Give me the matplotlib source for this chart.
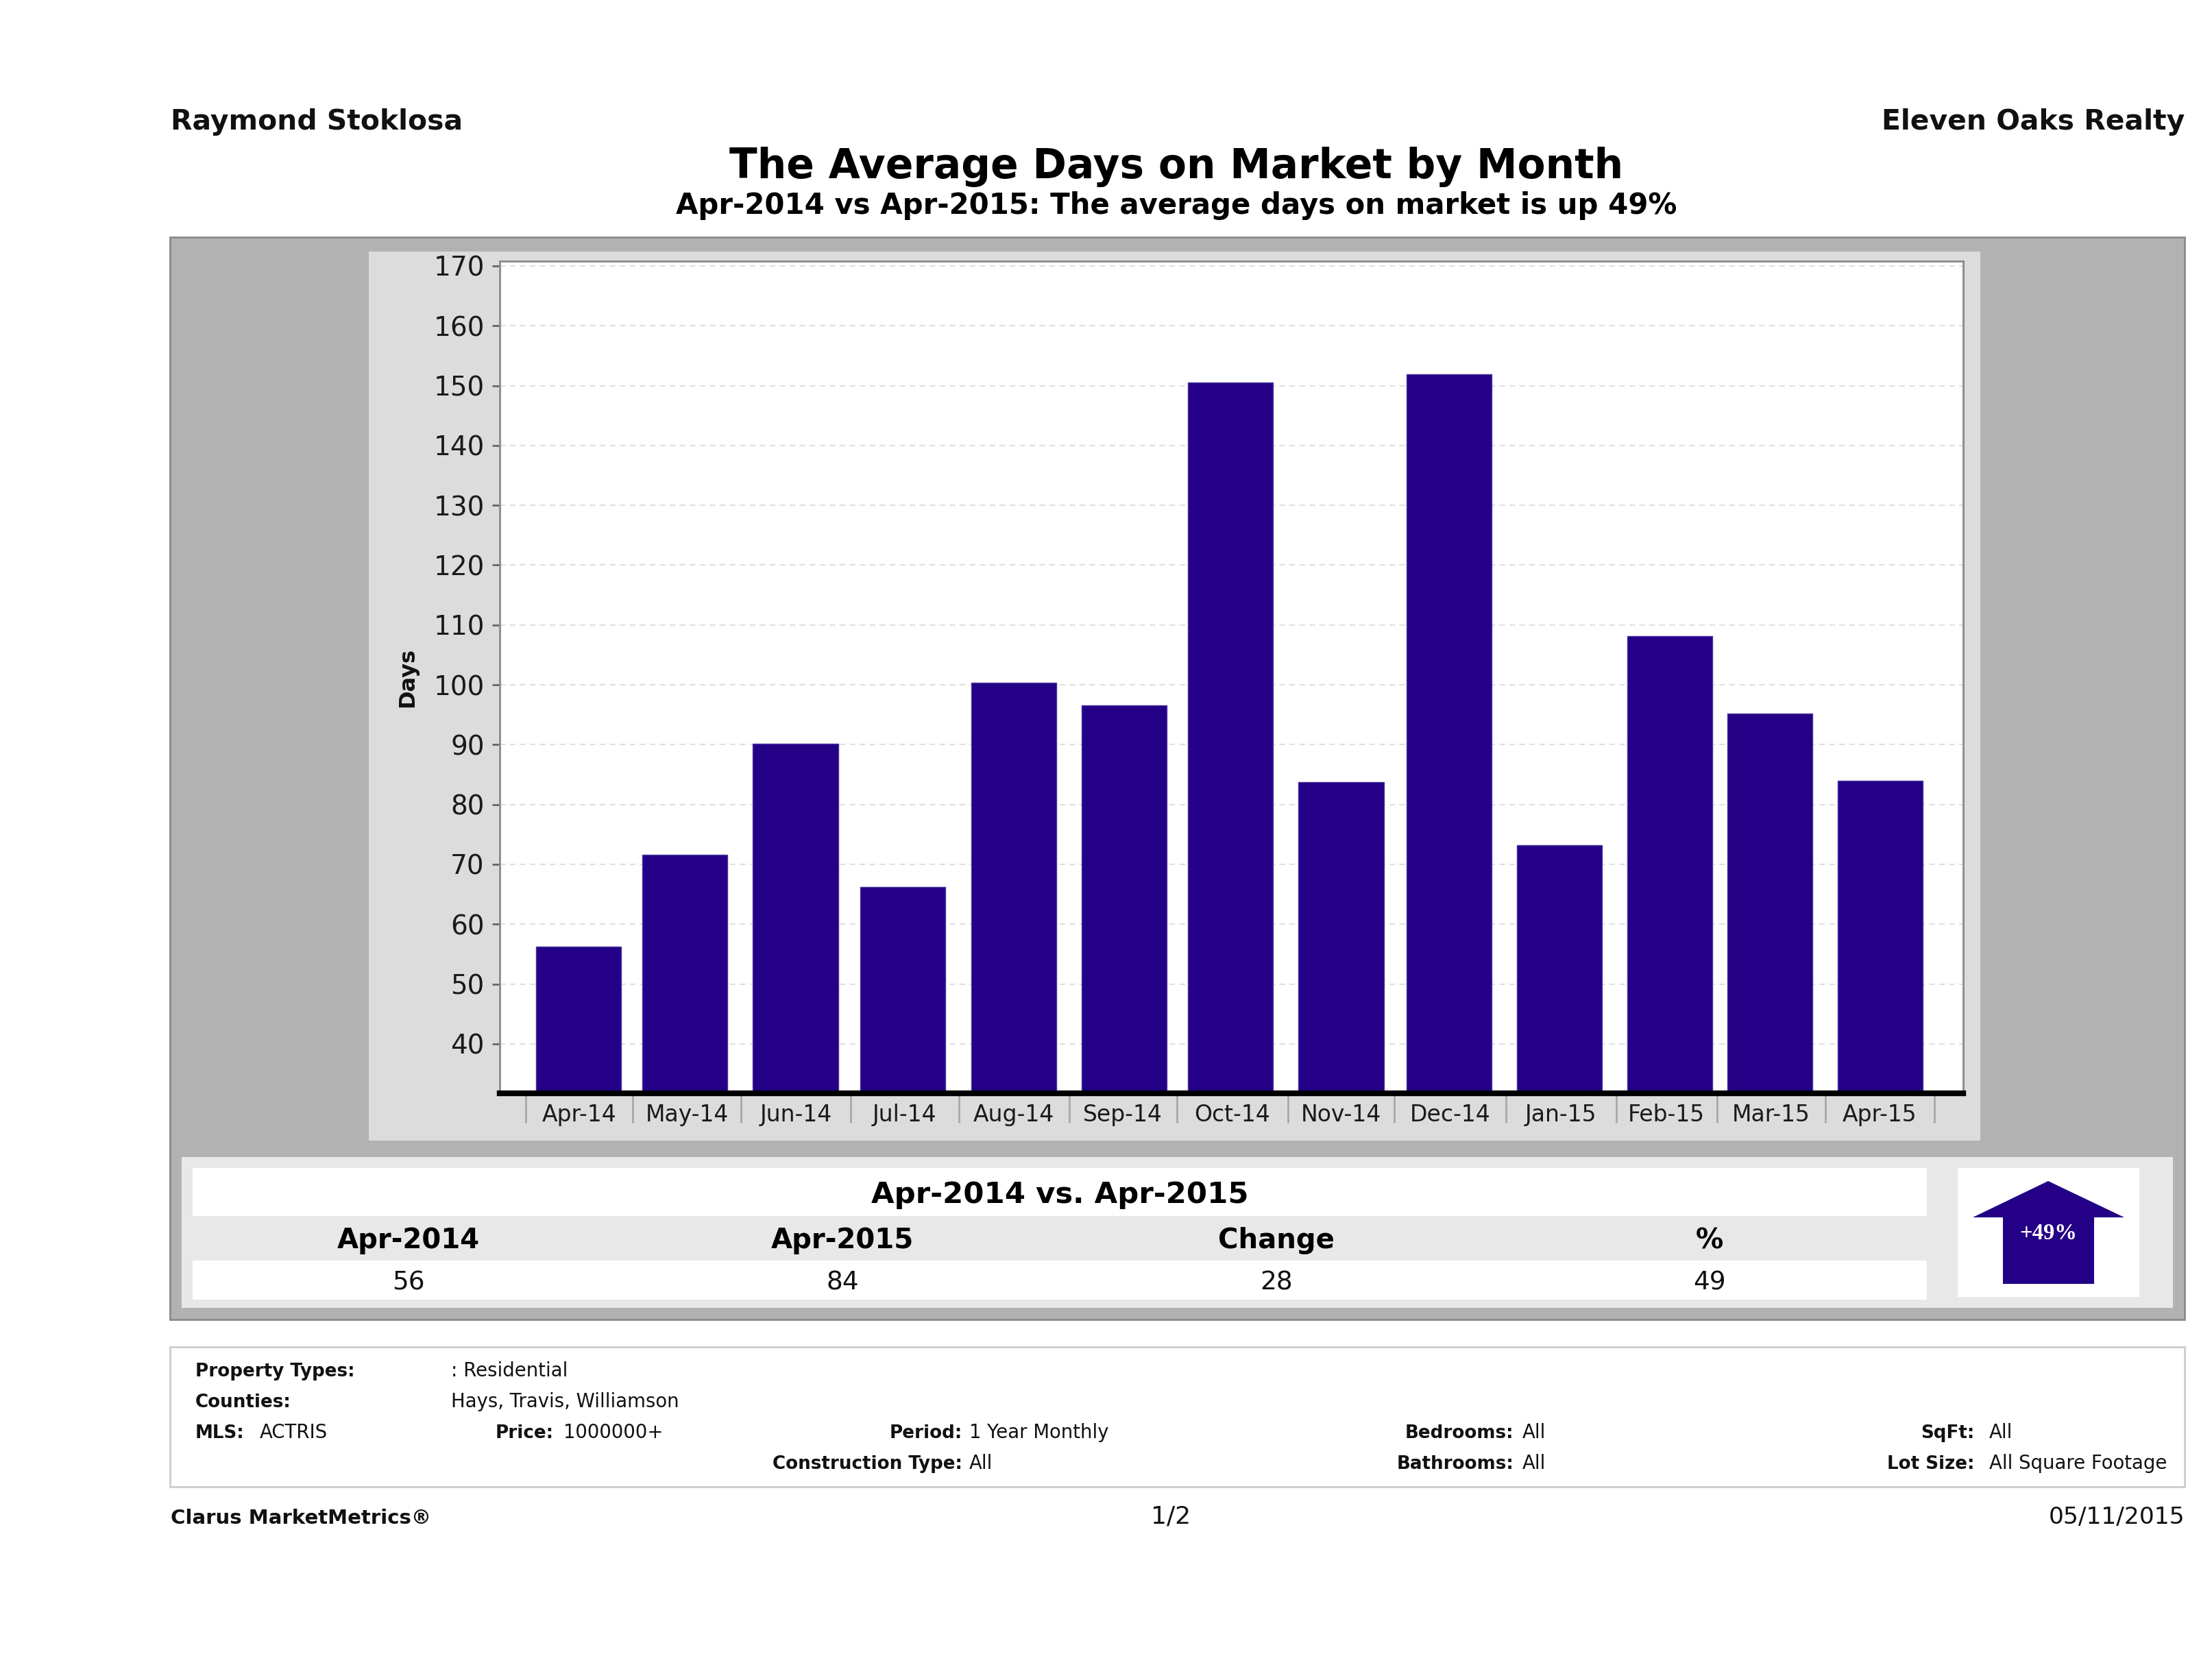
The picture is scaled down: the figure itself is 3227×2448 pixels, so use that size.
import matplotlib
matplotlib.use("Agg")
import matplotlib.pyplot as plt
from matplotlib.patches import Rectangle, Polygon

# chart data
months = ["Apr-14", "May-14", "Jun-14", "Jul-14", "Aug-14", "Sep-14", "Oct-14",
          "Nov-14", "Dec-14", "Jan-15", "Feb-15", "Mar-15", "Apr-15"]
avg_days = [56.2, 71.6, 90.2, 66.2, 100.3, 96.6, 150.5, 83.8, 151.9, 73.2, 108.2, 95.2, 84]
y_ticks = [40, 50, 60, 70, 80, 90, 100, 110, 120, 130, 140, 150, 160, 170]

# summary table
table_title = "Apr-2014 vs. Apr-2015"
table_heads = ["Apr-2014", "Apr-2015", "Change", "%"]
table_vals = ["56", "84", "28", "49"]

# the bars in the source are not evenly spaced, offsets in month units
bar_nudge = [0, -0.02, 0, -0.01, 0.01, 0.03, 0.01, 0.03, 0.025, 0.04, 0.06, -0.02, 0]
sep_ticks = [-0.487, 0.499, 1.497, 2.508, 3.506, 4.523, 5.515, 6.539, 7.519, 8.549,
             9.566, 10.495, 11.494, 12.5]

W, H = 3227, 2448
BAR = "#240086"
DARK = "#111111"

fig = plt.figure(figsize=(W / 100, H / 100), dpi=100, facecolor="white")
plt.rcParams["font.family"] = "DejaVu Sans"

# background axes in picture pixels for the panels and the page text
bg = fig.add_axes([0, 0, 1, 1])
bg.set_xlim(0, W)
bg.set_ylim(H, 0)
bg.axis("off")


def box(x0, y0, x1, y1, color, edge="none", lw=0):
    bg.add_patch(Rectangle((x0, y0), x1 - x0, y1 - y0, facecolor=color, edgecolor=edge, linewidth=lw))


def label(x, y, s, size, bold=False, ha="left", **kw):
    bg.text(x, y, s, fontsize=size, fontweight="bold" if bold else "normal", ha=ha,
            va="baseline", color=kw.pop("color", DARK), **kw)


box(248, 346, 3187, 1925, "#b2b2b2", "#8a8a8a", 2)
box(538, 367, 2889, 1664, "#dcdcdc")
box(265, 1688, 3170, 1908, "#e8e8e8")
box(281, 1704, 2811, 1774, "white")
box(281, 1839, 2811, 1896, "white")
box(2856, 1704, 3121, 1892, "white")
box(248, 1965, 3187, 2169, "white", "#cccccc", 2)

# up arrow
bg.add_patch(Polygon([(2988, 1723), (3099, 1776), (3055, 1776), (3055, 1873),
                      (2922, 1873), (2922, 1776), (2878, 1776)], closed=True, facecolor=BAR))
bg.text(2988, 1808, "+49%", fontsize=23.5, fontweight="bold", family="Liberation Serif",
        color="white", ha="center", va="baseline")

# page heading
label(249, 189, "Raymond Stoklosa", 29.4, True)
label(3187, 189, "Eleven Oaks Realty", 29.4, True, ha="right")
label(1716, 260, "The Average Days on Market by Month", 43, True, ha="center", color="black")
label(1716, 312, "Apr-2014 vs Apr-2015: The average days on market is up 49%", 30.2, True, ha="center", color="black")

# summary table text
label(1546, 1755, table_title, 31.2, True, ha="center", color="black")
for cx, head, val in zip([596, 1229, 1862, 2494], table_heads, table_vals):
    label(cx, 1821, head, 29, True, ha="center", color="black")
    label(cx, 1882, val, 27, ha="center")

# footer filter block
label(285, 2008, "Property Types:", 18.8, True)
label(658, 2008, ": Residential", 19.8)
label(285, 2053, "Counties:", 18.8, True)
label(658, 2053, "Hays, Travis, Williamson", 19.8)
label(285, 2098, "MLS:", 18.8, True)
label(379, 2098, "ACTRIS", 19.8)
label(808, 2098, "Price:", 18.8, True, ha="right")
label(822, 2098, "1000000+", 19.8)
label(1404, 2098, "Period:", 18.8, True, ha="right")
label(1414, 2098, "1 Year Monthly", 19.8)
label(1404, 2143, "Construction Type:", 18.8, True, ha="right")
label(1414, 2143, "All", 19.8)
label(2208, 2098, "Bedrooms:", 18.8, True, ha="right")
label(2221, 2098, "All", 19.8)
label(2208, 2143, "Bathrooms:", 18.8, True, ha="right")
label(2221, 2143, "All", 19.8)
label(2880, 2098, "SqFt:", 18.8, True, ha="right")
label(2902, 2098, "All", 19.8)
label(2880, 2143, "Lot Size:", 18.8, True, ha="right")
label(2902, 2143, "All Square Footage", 19.8)

label(249, 2223, "Clarus MarketMetrics\u00ae", 21, True)
label(1708, 2223, "1/2", 26, ha="center")
label(3187, 2223, "05/11/2015", 24.8, ha="right")

# bar chart
left, right, top, bottom = 729, 2864, 381, 1595
ax = fig.add_axes([left / W, 1 - bottom / H, (right - left) / W, (bottom - top) / H])
ax.set_facecolor("white")
x_pos = [i + n for i, n in enumerate(bar_nudge)]
ax.bar(x_pos, avg_days, width=0.784, color=BAR, edgecolor="#4a35a0", linewidth=1, zorder=3)
ax.set_xlim(-0.727, 12.765)
ax.set_ylim(31.74, 170.8)

ax.set_yticks(y_ticks)
ax.tick_params(axis="y", labelsize=28, length=8, width=2, color="#666666", pad=8, labelcolor="#1a1a1a")
ax.grid(axis="y", color="#e0e0e0", linestyle=(0, (4, 3)), linewidth=1.5, zorder=1)
ax.set_ylabel("Days", fontsize=23, fontweight="bold", color=DARK, labelpad=16)

# month labels sit in the middle of their separator ticks
label_pos = [(a + b) / 2 for a, b in zip(sep_ticks[:-1], sep_ticks[1:])]
ax.set_xticks(label_pos, months)
ax.tick_params(axis="x", which="major", labelsize=23.8, length=0, pad=11, labelcolor="#1a1a1a")
ax.set_xticks(sep_ticks, minor=True)
ax.tick_params(axis="x", which="minor", length=31, width=2, color="#a8a8a8")

for side in ["left", "top", "right"]:
    ax.spines[side].set_color("#8a8a8a")
    ax.spines[side].set_linewidth(2)
ax.spines["bottom"].set_color("black")
ax.spines["bottom"].set_linewidth(6)
ax.spines["bottom"].set_zorder(5)

fig.savefig("out.png", dpi=100, facecolor="white")
